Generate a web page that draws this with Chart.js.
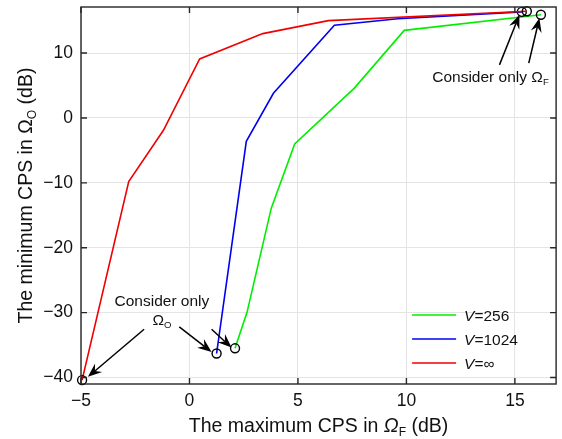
<!DOCTYPE html>
<html><head><meta charset="utf-8">
<script src="https://cdn.jsdelivr.net/npm/chart.js@4/dist/chart.umd.min.js"></script>
<style>html,body{margin:0;padding:0;background:#fff;}#wrap{width:562px;height:439px;}</style>
</head><body><div id="wrap"><canvas id="c" width="562" height="439"></canvas></div>
<script>
// ---- data ----
const seriesLabels = ['256', '1024', '\u221E'];
const greenX = [2.1, 2.65, 3.77, 4.85, 7.6, 9.9, 16.2];
const greenY = [-35.5, -30.0, -13.9, -4.0, 4.6, 13.5, 15.9];
const blueX  = [1.25, 2.62, 3.87, 6.68, 9.6, 15.32];
const blueY  = [-36.3, -3.6, 3.8, 14.3, 15.3, 16.35];
const redX   = [-4.95, -2.8, -1.2, 0.47, 3.38, 6.4, 15.55];
const redY   = [-40.4, -9.8, -1.9, 9.1, 13.0, 15.0, 16.45];
const xTicks = [-5, 0, 5, 10, 15];
const yTicks = [-40, -30, -20, -10, 0, 10];

// annotation arrows (data coordinates): tail -> tip
const arrowTails = [[-2.09, -32.56], [-0.47, -32.2], [1.02, -32.56], [14.29, 8.18], [15.64, 8.44]];
const arrowTips  = [[-4.68, -39.9], [1.02, -36.06], [1.94, -35.39], [15.21, 15.9], [16.13, 15.39]];

const FAM = '"Liberation Sans", Arial, Helvetica, sans-serif';
const fnt = (s, it) => (it ? 'italic ' : '') + s + 'px ' + FAM;
const fmt = v => v < 0 ? '\u2212' + Math.abs(v) : String(v);
const pts = (xs, ys) => xs.map((x, i) => ({x: x, y: ys[i]}));

function partsWidth(ctx, parts, size) {
  let w = 0;
  for (const p of parts) { ctx.font = fnt(p.sub ? size * 0.62 : size, p.it); w += ctx.measureText(p.t).width; }
  return w;
}
function drawParts(ctx, parts, x, yMid, size, align) {
  const w = partsWidth(ctx, parts, size);
  let cx = align === 'center' ? x - w / 2 : (align === 'right' ? x - w : x);
  const base = yMid + size * 0.36;
  ctx.textAlign = 'left'; ctx.textBaseline = 'alphabetic';
  for (const p of parts) {
    const s = p.sub ? size * 0.62 : size;
    ctx.font = fnt(s, p.it);
    ctx.fillText(p.t, cx, base + (p.sub ? size * 0.2 : 0));
    cx += ctx.measureText(p.t).width;
  }
}
function arrow(ctx, x1, y1, x2, y2) {
  const L = 14, W = 5.5, N = 0.35;
  const a = Math.atan2(y2 - y1, x2 - x1), c = Math.cos(a), s = Math.sin(a);
  const bx = x2 - L * c, by = y2 - L * s;
  const nx = x2 - L * (1 - N) * c, ny = y2 - L * (1 - N) * s;
  ctx.beginPath(); ctx.moveTo(x1, y1); ctx.lineTo(nx, ny); ctx.stroke();
  ctx.beginPath(); ctx.moveTo(x2, y2);
  ctx.lineTo(bx - s * W, by + c * W); ctx.lineTo(nx, ny); ctx.lineTo(bx + s * W, by - c * W);
  ctx.closePath(); ctx.fill();
}

const endRadius = ctx => {
  const n = ctx.dataset.data.length;
  return (ctx.dataIndex === 0 || ctx.dataIndex === n - 1) ? 4.5 : 0;
};
function ds(label, data, color, order) {
  return {label: label, data: data, showLine: true, borderColor: color, borderWidth: 1.6,
    pointRadius: endRadius, pointHoverRadius: endRadius, pointBorderColor: '#000', pointBorderWidth: 1.4,
    pointBackgroundColor: 'rgba(0,0,0,0)', clip: false, order: order, tension: 0};
}

const framePlugin = {
  id: 'frame',
  afterDraw(chart) {
    const ctx = chart.ctx, a = chart.chartArea, xs = chart.scales.x, ys = chart.scales.y;
    ctx.save();
    ctx.strokeStyle = '#262626'; ctx.lineWidth = 1.4;
    ctx.strokeRect(a.left, a.top, a.right - a.left, a.bottom - a.top);
    const T = 6;
    ctx.beginPath();
    xs.ticks.forEach(t => { const p = xs.getPixelForValue(t.value);
      ctx.moveTo(p, a.bottom); ctx.lineTo(p, a.bottom - T); ctx.moveTo(p, a.top); ctx.lineTo(p, a.top + T); });
    ys.ticks.forEach(t => { const p = ys.getPixelForValue(t.value);
      ctx.moveTo(a.left, p); ctx.lineTo(a.left + T, p); ctx.moveTo(a.right, p); ctx.lineTo(a.right - T, p); });
    ctx.stroke();

    ctx.fillStyle = '#111';
    const cxm = (a.left + a.right) / 2, cym = (a.top + a.bottom) / 2;
    drawParts(ctx, [{t: 'The maximum CPS in '}, {t: '\u03A9', it: true}, {t: 'F', sub: true}, {t: ' (dB)'}], cxm, 425, 19.5, 'center');
    ctx.save(); ctx.translate(25, cym); ctx.rotate(-Math.PI / 2);
    drawParts(ctx, [{t: 'The minimum CPS in '}, {t: '\u03A9'}, {t: 'O', sub: true}, {t: ' (dB)'}], 0, 0, 19.5, 'center');
    ctx.restore();

    const cols = chart.data.datasets.map(d => d.borderColor);
    chart.data.datasets.forEach((d, i) => {
      const y = a.bottom - 69 + i * 24;
      ctx.strokeStyle = cols[i]; ctx.lineWidth = 1.6;
      ctx.beginPath(); ctx.moveTo(a.right - 144, y); ctx.lineTo(a.right - 100, y); ctx.stroke();
      ctx.fillStyle = '#111';
      drawParts(ctx, [{t: 'V', it: true}, {t: '=' + d.label}], a.right - 92, y, 15.5, 'left');
    });

    ctx.strokeStyle = '#000'; ctx.fillStyle = '#000'; ctx.lineWidth = 1.5;
    arrowTails.forEach((t, i) => {
      const tp = arrowTips[i];
      arrow(ctx, xs.getPixelForValue(t[0]), ys.getPixelForValue(t[1]), xs.getPixelForValue(tp[0]), ys.getPixelForValue(tp[1]));
    });
    ctx.fillStyle = '#111';
    drawParts(ctx, [{t: 'Consider only'}], xs.getPixelForValue(-1.27), ys.getPixelForValue(-28.1), 15.5, 'center');
    drawParts(ctx, [{t: '\u03A9'}, {t: 'O', sub: true}], xs.getPixelForValue(-1.27), ys.getPixelForValue(-31.0), 15.5, 'center');
    drawParts(ctx, [{t: 'Consider only '}, {t: '\u03A9'}, {t: 'F', sub: true}], xs.getPixelForValue(11.19), ys.getPixelForValue(6.45), 15.5, 'left');
    ctx.restore();
  }
};

new Chart(document.getElementById('c').getContext('2d'), {
  type: 'scatter',
  data: {datasets: [
    ds(seriesLabels[0], pts(greenX, greenY), '#00ee00', 2),
    ds(seriesLabels[1], pts(blueX, blueY), '#0000f0', 1),
    ds(seriesLabels[2], pts(redX, redY), '#f00000', 0)
  ]},
  options: {
    responsive: false, animation: false, devicePixelRatio: 1,
    layout: {padding: {left: 0, top: 7, right: 5, bottom: 0}},
    plugins: {legend: {display: false}, tooltip: {enabled: false}},
    events: [],
    scales: {
      x: {type: 'linear', min: -5, max: 16.9,
        afterBuildTicks: s => { s.ticks = xTicks.map(v => ({value: v})); },
        afterFit: s => { s.height = 55; s.paddingLeft = 0; s.paddingRight = 0; },
        grid: {color: '#e4e4e4', lineWidth: 1, drawTicks: false}, border: {display: false},
        ticks: {padding: 7, color: '#111', font: {family: FAM, size: 17.5}, maxRotation: 0, autoSkip: false, callback: v => fmt(v)}},
      y: {type: 'linear', min: -41, max: 17.1,
        afterBuildTicks: s => { s.ticks = yTicks.map(v => ({value: v})); },
        afterFit: s => { s.width = 81; s.paddingTop = 0; s.paddingBottom = 0; },
        grid: {color: '#e4e4e4', lineWidth: 1, drawTicks: false}, border: {display: false},
        ticks: {padding: 8, color: '#111', font: {family: FAM, size: 17.5}, autoSkip: false, callback: v => fmt(v)}}
    }
  },
  plugins: [framePlugin]
});
</script></body></html>
